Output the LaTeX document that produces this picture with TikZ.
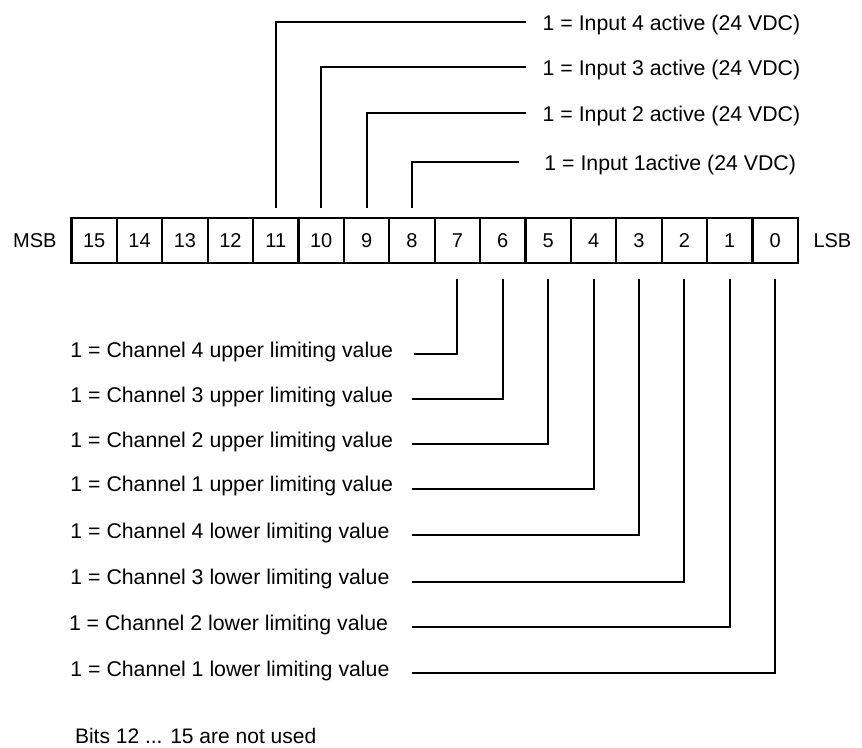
\documentclass[tikz,border=0pt]{standalone}
\usepackage{fontspec}
\setmainfont{Liberation Sans}
\begin{document}
\begin{tikzpicture}[x=1pt,y=-1pt,
  cell/.style={draw,line width=2.2pt,minimum width=45.4pt,minimum height=44.7pt,inner sep=0pt,outer sep=0pt,font=\fontsize{20}{24}\selectfont},
  tag/.style={inner sep=0pt,outer sep=0pt,font=\fontsize{20}{24}\selectfont},
  lab/.style={inner sep=0pt,outer sep=0pt,anchor=base west,font=\fontsize{21.3}{25}\selectfont},
  conn/.style={line width=2pt,line join=miter}]
\useasboundingbox (0,0) rectangle (862,747);
% register cells
\foreach \i in {0,...,15} {
  \node[cell] (c\i) at ({71.5+(15.5-\i)*45.4},240.65) {\i};
}
\node[tag,anchor=base east] (msb) at (56.5,247.3) {MSB};
\node[tag,anchor=base west] (lsb) at (813.5,247.3) {LSB};
% top labels
\node[lab] (in4) at (542.7,30) {1 = Input 4 active (24 VDC)};
\node[lab] (in3) at (542.7,75.3) {1 = Input 3 active (24 VDC)};
\node[lab] (in2) at (542.7,121) {1 = Input 2 active (24 VDC)};
\node[lab] (in1) at (544.4,170.3) {1 = Input 1active (24 VDC)};
\coordinate (e11) at (526,22);
\coordinate (e10) at (526,67.3);
\coordinate (e9) at (526,113);
\coordinate (e8) at (519,162.3);
\draw[conn] ([yshift=10pt]c11.north) |- (e11);
\draw[conn] ([yshift=10pt]c10.north) |- (e10);
\draw[conn] ([yshift=10pt]c9.north) |- (e9);
\draw[conn] ([yshift=10pt]c8.north) |- (e8);
% bottom labels
\node[lab] (ch4u) at (70.4,357.3) {1 = Channel 4 upper limiting value};
\node[lab] (ch3u) at (70.4,402.3) {1 = Channel 3 upper limiting value};
\node[lab] (ch2u) at (70.4,447) {1 = Channel 2 upper limiting value};
\node[lab] (ch1u) at (70.4,491.7) {1 = Channel 1 upper limiting value};
\node[lab] (ch4l) at (70.4,538) {1 = Channel 4 lower limiting value};
\node[lab] (ch3l) at (70.4,584.7) {1 = Channel 3 lower limiting value};
\node[lab] (ch2l) at (69,630.3) {1 = Channel 2 lower limiting value};
\node[lab] (ch1l) at (70.4,676.3) {1 = Channel 1 lower limiting value};
\node[lab,font=\fontsize{21}{25}\selectfont] (note) at (75,743) {Bits 12 ... 15 are not used};
\coordinate (b7) at (414.3,354.3);
\coordinate (b6) at (412.3,399.3);
\coordinate (b5) at (412.3,444);
\coordinate (b4) at (412.3,488.7);
\coordinate (b3) at (412.3,535);
\coordinate (b2) at (412.3,581.7);
\coordinate (b1) at (412.3,627.3);
\coordinate (b0) at (412.3,673.3);
\foreach \i in {0,...,7} {
  \draw[conn] ([yshift=-16.3pt]c\i.south) |- (b\i);
}
\end{tikzpicture}
\end{document}
